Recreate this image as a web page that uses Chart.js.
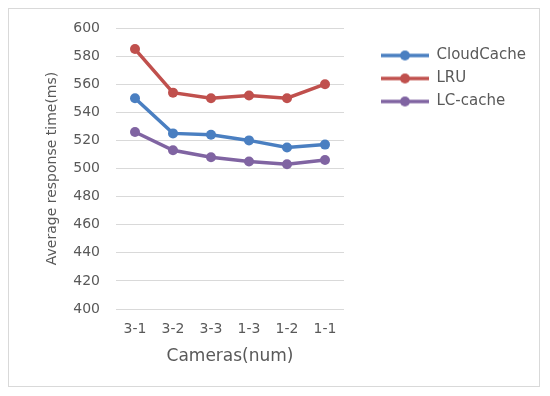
<!DOCTYPE html>
<html>
<head>
<meta charset="utf-8">
<script src="https://cdn.jsdelivr.net/npm/chart.js@4.4.1/dist/chart.umd.min.js"></script>
<style>
    body { margin: 0; background: #fff; }
    #box {
        position: absolute;
        left: 8px;
        top: 8px;
        width: 532px;
        height: 379px;
        border: 1px solid #d9d9d9;
        box-sizing: border-box;
    }
    canvas { position: absolute; left: 0; top: 0; }
</style>
</head>
<body>
<div id="box"><canvas id="chart" width="530" height="377"></canvas></div>
<script>
const cameras = ["3-1", "3-2", "3-3", "1-3", "1-2", "1-1"];
const cloudCache = [550, 525, 524, 520, 515, 517];
const lru = [585, 554, 550, 552, 550, 560];
const lcCache = [526, 513, 508, 505, 503, 506];
const yTicks = [400, 420, 440, 460, 480, 500, 520, 540, 560, 580, 600];

const textColor = "#595959";
const fontFamily = "'DejaVu Sans', sans-serif";

// little line + dot picture for the legend entries
function legendMark(color) {
    const c = document.createElement("canvas");
    c.width = 48;
    c.height = 12;
    const ctx = c.getContext("2d");
    ctx.strokeStyle = color;
    ctx.lineWidth = 3.5;
    ctx.beginPath();
    ctx.moveTo(0, 6);
    ctx.lineTo(48, 6);
    ctx.stroke();
    ctx.fillStyle = color;
    ctx.beginPath();
    ctx.arc(24, 6, 5, 0, Math.PI * 2);
    ctx.fill();
    return c;
}

function makeSeries(label, data, color) {
    return {
        label: label,
        data: data,
        borderColor: color,
        backgroundColor: color,
        borderWidth: 3.5,
        pointRadius: 5,
        pointHoverRadius: 5,
        pointBackgroundColor: color,
        pointBorderWidth: 0,
        tension: 0,
        legendImage: legendMark(color)
    };
}

const legendPlace = {
    id: "legendPlace",
    beforeInit(chart) {
        const fit = chart.legend.fit;
        chart.legend.fit = function () {
            fit.bind(chart.legend)();
            this.width = 195;
        };
    },
    afterLayout(chart) {
        const lg = chart.legend;
        const dx = chart.chartArea.right + 29 - lg.left;
        lg.left += dx;
        lg.right += dx;
        const dy = 31 - lg.top;
        lg.top += dy;
        lg.bottom += dy;
    }
};

new Chart(document.getElementById("chart"), {
    type: "line",
    data: {
        labels: cameras,
        datasets: [
            makeSeries("CloudCache", cloudCache, "#4a7fc1"),
            makeSeries("LRU", lru, "#c0504d"),
            makeSeries("LC-cache", lcCache, "#8064a2")
        ]
    },
    options: {
        responsive: false,
        animation: false,
        layout: { padding: { left: 0, right: 0, top: 19, bottom: 0 } },
        plugins: {
            tooltip: { enabled: false },
            legend: {
                position: "right",
                align: "start",
                labels: {
                    usePointStyle: true,
                    pointStyleWidth: 48,
                    padding: 8,
                    color: textColor,
                    font: { family: fontFamily, size: 15 },
                    generateLabels(chart) {
                        return chart.data.datasets.map((ds, i) => ({
                            text: ds.label,
                            pointStyle: ds.legendImage,
                            fillStyle: ds.borderColor,
                            strokeStyle: ds.borderColor,
                            lineWidth: 0,
                            fontColor: textColor,
                            datasetIndex: i
                        }));
                    }
                }
            }
        },
        scales: {
            x: {
                offset: true,
                grid: { display: false, drawTicks: false },
                border: { display: false },
                ticks: {
                    padding: 12,
                    color: textColor,
                    font: { family: fontFamily, size: 14 }
                },
                title: {
                    display: true,
                    text: "Cameras(num)",
                    color: textColor,
                    font: { family: fontFamily, size: 17 },
                    padding: { top: 0, bottom: 19 }
                },
                afterFit(scale) { scale.height = 77; }
            },
            y: {
                min: 400,
                max: 600,
                afterBuildTicks(scale) {
                    scale.ticks = yTicks.map(v => ({ value: v }));
                },
                // invisible tick marks make the gap between labels and plot
                grid: { color: "#d9d9d9", lineWidth: 1, drawTicks: true, tickLength: 16, tickColor: "rgba(0,0,0,0)" },
                border: { display: false },
                ticks: {
                    padding: 0,
                    color: textColor,
                    font: { family: fontFamily, size: 14 }
                },
                title: {
                    display: true,
                    text: "Average response time(ms)",
                    color: textColor,
                    font: { family: fontFamily, size: 14 },
                    padding: { top: 35, bottom: 0 }
                },
                afterFit(scale) { scale.width = 107; }
            }
        }
    },
    plugins: [legendPlace]
});
</script>
</body>
</html>
